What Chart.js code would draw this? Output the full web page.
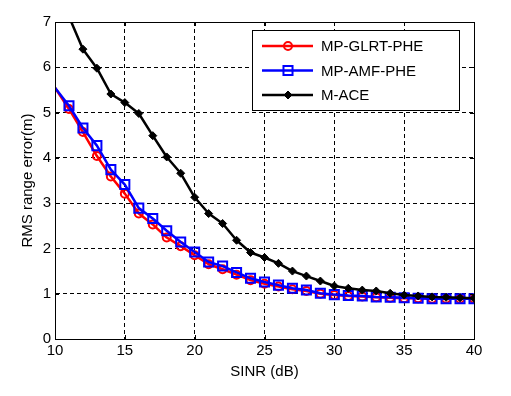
<!DOCTYPE html>
<html>
<head>
<meta charset="utf-8">
<script src="https://cdn.jsdelivr.net/npm/chart.js"></script>
<style>
html,body{margin:0;padding:0;background:#fff;}
#wrap{width:511px;height:396px;position:relative;}
</style>
</head>
<body>
<div id="wrap"><canvas id="c" width="511" height="396"></canvas></div>
<script>
const sinr = [10,11,12,13,14,15,16,17,18,19,20,21,22,23,24,25,26,27,28,29,30,31,32,33,34,35,36,37,38,39,40];
const glrt = [5.55,5.08,4.57,4.04,3.59,3.21,2.77,2.53,2.24,2.05,1.85,1.65,1.54,1.42,1.30,1.22,1.16,1.10,1.06,1.00,0.97,0.95,0.94,0.92,0.91,0.90,0.90,0.89,0.89,0.89,0.89];
const amf  = [5.55,5.15,4.66,4.27,3.74,3.41,2.89,2.66,2.39,2.14,1.92,1.70,1.61,1.47,1.34,1.26,1.19,1.12,1.08,1.01,0.98,0.96,0.95,0.93,0.92,0.91,0.90,0.89,0.89,0.89,0.89];
const mace = [7.90,7.12,6.40,5.98,5.41,5.22,4.98,4.49,4.02,3.66,3.13,2.77,2.55,2.18,1.91,1.80,1.67,1.50,1.39,1.28,1.17,1.12,1.08,1.06,1.01,0.97,0.95,0.93,0.92,0.91,0.90];
const xTicks = [10,15,20,25,30,35,40];
const yTicks = [0,1,2,3,4,5,6,7];
const seriesNames = ['MP-GLRT-PHE','MP-AMF-PHE','M-ACE'];

const pts = arr => sinr.map((x,i)=>({x:x,y:arr[i]}));
const hideFirst = r => (ctx => ctx.dataIndex === 0 ? 0 : r);

const FONT = 'Liberation Sans, Arial, sans-serif';

const framePlugin = {
  id:'frame',
  beforeDraw(chart){
    const c = chart.ctx; c.save(); c.fillStyle='#fff'; c.fillRect(0,0,chart.width,chart.height); c.restore();
  },
  afterDatasetsDraw(chart){
    const c = chart.ctx, a = chart.chartArea, xs = chart.scales.x, ys = chart.scales.y;
    c.save();
    c.strokeStyle='#000'; c.lineWidth=1;
    c.beginPath();
    xTicks.forEach(v=>{ const px=Math.round(xs.getPixelForValue(v))+0.5;
      c.moveTo(px,a.bottom); c.lineTo(px,a.bottom-4);
      c.moveTo(px,a.top); c.lineTo(px,a.top+4); });
    yTicks.forEach(v=>{ const py=Math.round(ys.getPixelForValue(v))+0.5;
      c.moveTo(a.left,py); c.lineTo(a.left+4,py);
      c.moveTo(a.right,py); c.lineTo(a.right-4,py); });
    c.stroke();
    c.strokeRect(Math.round(a.left)+0.5, Math.round(a.top)+0.5, Math.round(a.right-a.left), Math.round(a.bottom-a.top));
    // legend
    const bx=252.5, by=30.5, bw=207, bh=80;
    c.fillStyle='#fff'; c.fillRect(bx,by,bw,bh); c.strokeRect(bx,by,bw,bh);
    const rows=[46,70.5,95];
    const cols=['#ff0000','#0000ff','#000000'];
    const styles=['circle','rect','rectRot'];
    const radii=[4,6.4,4];
    const fills=['rgba(0,0,0,0)','rgba(0,0,0,0)','#000'];
    c.font='15px '+FONT; c.textBaseline='middle'; c.textAlign='left';
    rows.forEach((ry,i)=>{
      c.strokeStyle=cols[i]; c.lineWidth=2.5;
      c.beginPath(); c.moveTo(262,ry); c.lineTo(313,ry); c.stroke();
      c.fillStyle=fills[i]; c.lineWidth= i===2?1:2;
      Chart.helpers.drawPoint(c,{pointStyle:styles[i],radius:radii[i],borderWidth:c.lineWidth},288,ry);
      c.fillStyle='#000';
      c.fillText(seriesNames[i],321,ry+1);
    });
    c.restore();
  }
};

new Chart(document.getElementById('c'),{
  type:'line',
  data:{datasets:[
    {label:seriesNames[0],data:pts(glrt),borderColor:'#ff0000',borderWidth:2.5,pointStyle:'circle',pointRadius:hideFirst(4),pointBorderWidth:2,pointBorderColor:'#ff0000',pointBackgroundColor:'rgba(0,0,0,0)',order:3,clip:0,tension:0},
    {label:seriesNames[1],data:pts(amf),borderColor:'#0000ff',borderWidth:2.5,pointStyle:'rect',pointRadius:hideFirst(6.4),pointBorderWidth:2,pointBorderColor:'#0000ff',pointBackgroundColor:'rgba(0,0,0,0)',order:2,clip:0,tension:0},
    {label:seriesNames[2],data:pts(mace),borderColor:'#000000',borderWidth:2.5,pointStyle:'rectRot',pointRadius:hideFirst(4),pointBorderWidth:1,pointBorderColor:'#000',pointBackgroundColor:'#000',order:1,clip:0,tension:0}
  ]},
  options:{
    responsive:false, animation:false, devicePixelRatio:1,
    layout:{padding:{left:0,right:37,top:22,bottom:0}},
    plugins:{legend:{display:false},tooltip:{enabled:false}},
    elements:{line:{borderJoinStyle:'round'}},
    scales:{
      x:{type:'linear',min:10,max:40,
        afterFit:s=>{s.height=57;},
        afterBuildTicks:s=>{s.ticks=xTicks.map(v=>({value:v}));},
        ticks:{font:{family:FONT,size:15},color:'#000',padding:3,maxRotation:0,autoSkip:false},
        grid:{color:'#000',lineWidth:1,drawTicks:false},
        border:{display:true,color:'#000',dash:[4,3]},
        title:{display:true,text:'SINR (dB)',font:{family:FONT,size:15},color:'#000',padding:{top:15,bottom:15}}
      },
      y:{type:'linear',min:0,max:7,
        afterFit:s=>{s.width=55;},
        afterBuildTicks:s=>{s.ticks=yTicks.map(v=>({value:v}));},
        ticks:{font:{family:FONT,size:15},color:'#000',padding:4,autoSkip:false},
        grid:{color:'#000',lineWidth:1,drawTicks:false},
        border:{display:true,color:'#000',dash:[4,3]},
        title:{display:true,text:'RMS range error(m)',font:{family:FONT,size:15},color:'#000',padding:{top:19,bottom:19}}
      }
    }
  },
  plugins:[framePlugin]
});
</script>
</body>
</html>
